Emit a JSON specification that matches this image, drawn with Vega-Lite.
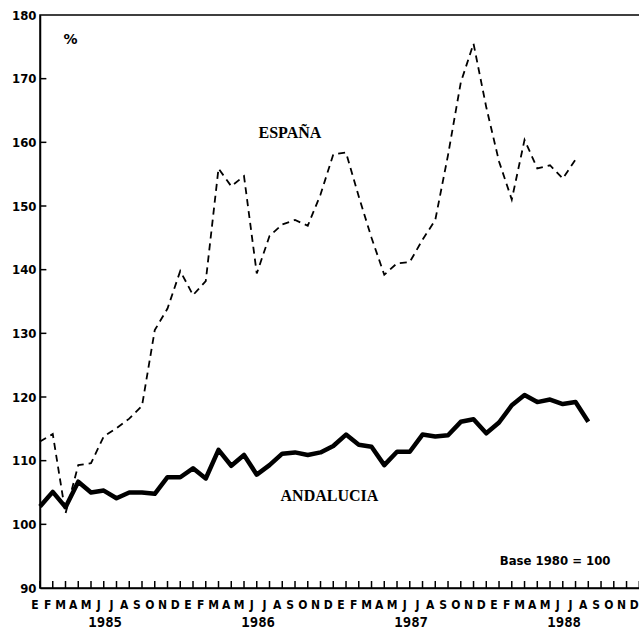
{
  "$schema": "https://vega.github.io/schema/vega-lite/v6.json",
  "autosize": {"type": "none"},
  "width": 610,
  "height": 573,
  "padding": {"left": 40, "top": 15, "right": 0, "bottom": 48},
  "background": "white",
  "config": {
    "view": {"stroke": "black", "strokeWidth": 1.5},
    "axis": {"grid": false, "domainColor": "black", "tickColor": "black", "labelColor": "black", "domainWidth": 1.5}
  },
  "datasets": {
    "series": [
      {"t": 0, "serie": "Andalucía", "v": 102.8}, {"t": 1, "serie": "Andalucía", "v": 105.1}, {"t": 2, "serie": "Andalucía", "v": 102.7}, {"t": 3, "serie": "Andalucía", "v": 106.7}, {"t": 4, "serie": "Andalucía", "v": 105.0}, {"t": 5, "serie": "Andalucía", "v": 105.3}, {"t": 6, "serie": "Andalucía", "v": 104.1}, {"t": 7, "serie": "Andalucía", "v": 105.0}, {"t": 8, "serie": "Andalucía", "v": 105.0}, {"t": 9, "serie": "Andalucía", "v": 104.8},
      {"t": 10, "serie": "Andalucía", "v": 107.4}, {"t": 11, "serie": "Andalucía", "v": 107.4}, {"t": 12, "serie": "Andalucía", "v": 108.8}, {"t": 13, "serie": "Andalucía", "v": 107.2}, {"t": 14, "serie": "Andalucía", "v": 111.7}, {"t": 15, "serie": "Andalucía", "v": 109.2}, {"t": 16, "serie": "Andalucía", "v": 110.9}, {"t": 17, "serie": "Andalucía", "v": 107.8}, {"t": 18, "serie": "Andalucía", "v": 109.3}, {"t": 19, "serie": "Andalucía", "v": 111.1},
      {"t": 20, "serie": "Andalucía", "v": 111.3}, {"t": 21, "serie": "Andalucía", "v": 110.9}, {"t": 22, "serie": "Andalucía", "v": 111.3}, {"t": 23, "serie": "Andalucía", "v": 112.3}, {"t": 24, "serie": "Andalucía", "v": 114.1}, {"t": 25, "serie": "Andalucía", "v": 112.5}, {"t": 26, "serie": "Andalucía", "v": 112.2}, {"t": 27, "serie": "Andalucía", "v": 109.3}, {"t": 28, "serie": "Andalucía", "v": 111.4}, {"t": 29, "serie": "Andalucía", "v": 111.4},
      {"t": 30, "serie": "Andalucía", "v": 114.1}, {"t": 31, "serie": "Andalucía", "v": 113.8}, {"t": 32, "serie": "Andalucía", "v": 114.0}, {"t": 33, "serie": "Andalucía", "v": 116.1}, {"t": 34, "serie": "Andalucía", "v": 116.5}, {"t": 35, "serie": "Andalucía", "v": 114.3}, {"t": 36, "serie": "Andalucía", "v": 116.0}, {"t": 37, "serie": "Andalucía", "v": 118.7}, {"t": 38, "serie": "Andalucía", "v": 120.3}, {"t": 39, "serie": "Andalucía", "v": 119.2},
      {"t": 40, "serie": "Andalucía", "v": 119.6}, {"t": 41, "serie": "Andalucía", "v": 118.9}, {"t": 42, "serie": "Andalucía", "v": 119.2}, {"t": 43, "serie": "Andalucía", "v": 116.1},
      {"t": 0, "serie": "España", "v": 113.0}, {"t": 1, "serie": "España", "v": 114.2}, {"t": 2, "serie": "España", "v": 101.7}, {"t": 3, "serie": "España", "v": 109.3}, {"t": 4, "serie": "España", "v": 109.6}, {"t": 5, "serie": "España", "v": 113.8}, {"t": 6, "serie": "España", "v": 115.1}, {"t": 7, "serie": "España", "v": 116.6}, {"t": 8, "serie": "España", "v": 118.6}, {"t": 9, "serie": "España", "v": 130.5},
      {"t": 10, "serie": "España", "v": 133.9}, {"t": 11, "serie": "España", "v": 139.8}, {"t": 12, "serie": "España", "v": 136.0}, {"t": 13, "serie": "España", "v": 138.2}, {"t": 14, "serie": "España", "v": 155.9}, {"t": 15, "serie": "España", "v": 153.1}, {"t": 16, "serie": "España", "v": 154.7}, {"t": 17, "serie": "España", "v": 139.4}, {"t": 18, "serie": "España", "v": 145.3}, {"t": 19, "serie": "España", "v": 147.1},
      {"t": 20, "serie": "España", "v": 147.8}, {"t": 21, "serie": "España", "v": 146.9}, {"t": 22, "serie": "España", "v": 151.8}, {"t": 23, "serie": "España", "v": 158.1}, {"t": 24, "serie": "España", "v": 158.4}, {"t": 25, "serie": "España", "v": 151.5}, {"t": 26, "serie": "España", "v": 145.0}, {"t": 27, "serie": "España", "v": 139.2}, {"t": 28, "serie": "España", "v": 141.0}, {"t": 29, "serie": "España", "v": 141.2},
      {"t": 30, "serie": "España", "v": 144.7}, {"t": 31, "serie": "España", "v": 147.8}, {"t": 32, "serie": "España", "v": 158.0}, {"t": 33, "serie": "España", "v": 169.4}, {"t": 34, "serie": "España", "v": 175.5}, {"t": 35, "serie": "España", "v": 165.5}, {"t": 36, "serie": "España", "v": 157.0}, {"t": 37, "serie": "España", "v": 151.0}, {"t": 38, "serie": "España", "v": 160.4}, {"t": 39, "serie": "España", "v": 155.9},
      {"t": 40, "serie": "España", "v": 156.4}, {"t": 41, "serie": "España", "v": 154.3}, {"t": 42, "serie": "España", "v": 157.3}
    ],
    "months": [
      {"t": 0, "m": "E"}, {"t": 1, "m": "F"}, {"t": 2, "m": "M"}, {"t": 3, "m": "A"}, {"t": 4, "m": "M"}, {"t": 5, "m": "J"}, {"t": 6, "m": "J"}, {"t": 7, "m": "A"}, {"t": 8, "m": "S"}, {"t": 9, "m": "O"}, {"t": 10, "m": "N"}, {"t": 11, "m": "D"},
      {"t": 12, "m": "E"}, {"t": 13, "m": "F"}, {"t": 14, "m": "M"}, {"t": 15, "m": "A"}, {"t": 16, "m": "M"}, {"t": 17, "m": "J"}, {"t": 18, "m": "J"}, {"t": 19, "m": "A"}, {"t": 20, "m": "S"}, {"t": 21, "m": "O"}, {"t": 22, "m": "N"}, {"t": 23, "m": "D"},
      {"t": 24, "m": "E"}, {"t": 25, "m": "F"}, {"t": 26, "m": "M"}, {"t": 27, "m": "A"}, {"t": 28, "m": "M"}, {"t": 29, "m": "J"}, {"t": 30, "m": "J"}, {"t": 31, "m": "A"}, {"t": 32, "m": "S"}, {"t": 33, "m": "O"}, {"t": 34, "m": "N"}, {"t": 35, "m": "D"},
      {"t": 36, "m": "E"}, {"t": 37, "m": "F"}, {"t": 38, "m": "M"}, {"t": 39, "m": "A"}, {"t": 40, "m": "M"}, {"t": 41, "m": "J"}, {"t": 42, "m": "J"}, {"t": 43, "m": "A"}, {"t": 44, "m": "S"}, {"t": 45, "m": "O"}, {"t": 46, "m": "N"}, {"t": 47, "m": "D"}
    ],
    "levels": [
      {"v": 100}, {"v": 110}, {"v": 120}, {"v": 130}, {"v": 140}, {"v": 150}, {"v": 160}, {"v": 170}
    ],
    "years": [
      {"t": 5.5, "year": "1985"}, {"t": 17.5, "year": "1986"}, {"t": 29.5, "year": "1987"}, {"t": 41.5, "year": "1988"}
    ],
    "notes": [
      {"t": 19.6, "v": 161.5, "text": "ESPAÑA", "kind": "serie"},
      {"t": 22.7, "v": 104.5, "text": "ANDALUCIA", "kind": "serie"},
      {"t": 2.4, "v": 176.0, "text": "%", "kind": "unit"},
      {"t": 40.4, "v": 94.3, "text": "Base 1980 = 100", "kind": "base"}
    ]
  },
  "layer": [
    {
      "data": {"name": "series"},
      "transform": [{"filter": "datum.serie === 'España'"}],
      "mark": {"type": "line", "color": "black", "strokeWidth": 1.8, "strokeDash": [7, 5]},
      "encoding": {
        "x": {
          "field": "t", "type": "quantitative",
          "scale": {"domain": [0, 47.84], "nice": false, "zero": false},
          "axis": {"title": null, "labels": false, "ticks": false, "domain": true}
        },
        "y": {
          "field": "v", "type": "quantitative",
          "scale": {"domain": [90, 180], "nice": false, "zero": false},
          "axis": {
            "title": null,
            "values": [90, 100, 110, 120, 130, 140, 150, 160, 170, 180],
            "ticks": false, "labelPadding": 4, "labelFlush": false,
            "labelFont": "DejaVu Sans Condensed", "labelFontWeight": "bold", "labelFontSize": 13
          }
        }
      }
    },
    {
      "data": {"name": "series"},
      "transform": [{"filter": "datum.serie === 'Andalucía'"}],
      "mark": {"type": "line", "color": "black", "strokeWidth": 4.5, "strokeJoin": "round"},
      "encoding": {
        "x": {"field": "t", "type": "quantitative"},
        "y": {"field": "v", "type": "quantitative"}
      }
    },
    {
      "data": {"name": "months"},
      "mark": {"type": "rule", "color": "black", "strokeWidth": 1.5},
      "encoding": {
        "x": {"field": "t", "type": "quantitative"},
        "y": {"datum": 90},
        "y2": {"datum": 91.1}
      }
    },
    {
      "data": {"name": "levels"},
      "mark": {"type": "rule", "color": "black", "strokeWidth": 1.5},
      "encoding": {
        "y": {"field": "v", "type": "quantitative"},
        "x": {"datum": 0},
        "x2": {"datum": 0.5}
      }
    },
    {
      "data": {"name": "months"},
      "mark": {"type": "text", "font": "DejaVu Sans Condensed", "fontWeight": "bold", "fontSize": 12, "dy": 17, "dx": -5, "color": "black"},
      "encoding": {
        "x": {"field": "t", "type": "quantitative"},
        "y": {"datum": 90},
        "text": {"field": "m"}
      }
    },
    {
      "data": {"name": "years"},
      "mark": {"type": "text", "font": "DejaVu Sans Mono", "fontWeight": "bold", "fontSize": 14, "dy": 35, "dx": -5, "color": "black"},
      "encoding": {
        "x": {"field": "t", "type": "quantitative"},
        "y": {"datum": 90},
        "text": {"field": "year"}
      }
    },
    {
      "data": {"name": "notes"},
      "transform": [{"filter": "datum.kind === 'serie'"}],
      "mark": {"type": "text", "font": "Liberation Serif", "fontWeight": "bold", "fontSize": 16, "color": "black"},
      "encoding": {
        "x": {"field": "t", "type": "quantitative"},
        "y": {"field": "v", "type": "quantitative"},
        "text": {"field": "text"}
      }
    },
    {
      "data": {"name": "notes"},
      "transform": [{"filter": "datum.kind === 'unit'"}],
      "mark": {"type": "text", "font": "DejaVu Sans", "fontWeight": "bold", "fontSize": 14, "color": "black"},
      "encoding": {
        "x": {"field": "t", "type": "quantitative"},
        "y": {"field": "v", "type": "quantitative"},
        "text": {"field": "text"}
      }
    },
    {
      "data": {"name": "notes"},
      "transform": [{"filter": "datum.kind === 'base'"}],
      "mark": {"type": "text", "font": "DejaVu Sans Condensed", "fontWeight": "bold", "fontSize": 13, "color": "black"},
      "encoding": {
        "x": {"field": "t", "type": "quantitative"},
        "y": {"field": "v", "type": "quantitative"},
        "text": {"field": "text"}
      }
    }
  ]
}
